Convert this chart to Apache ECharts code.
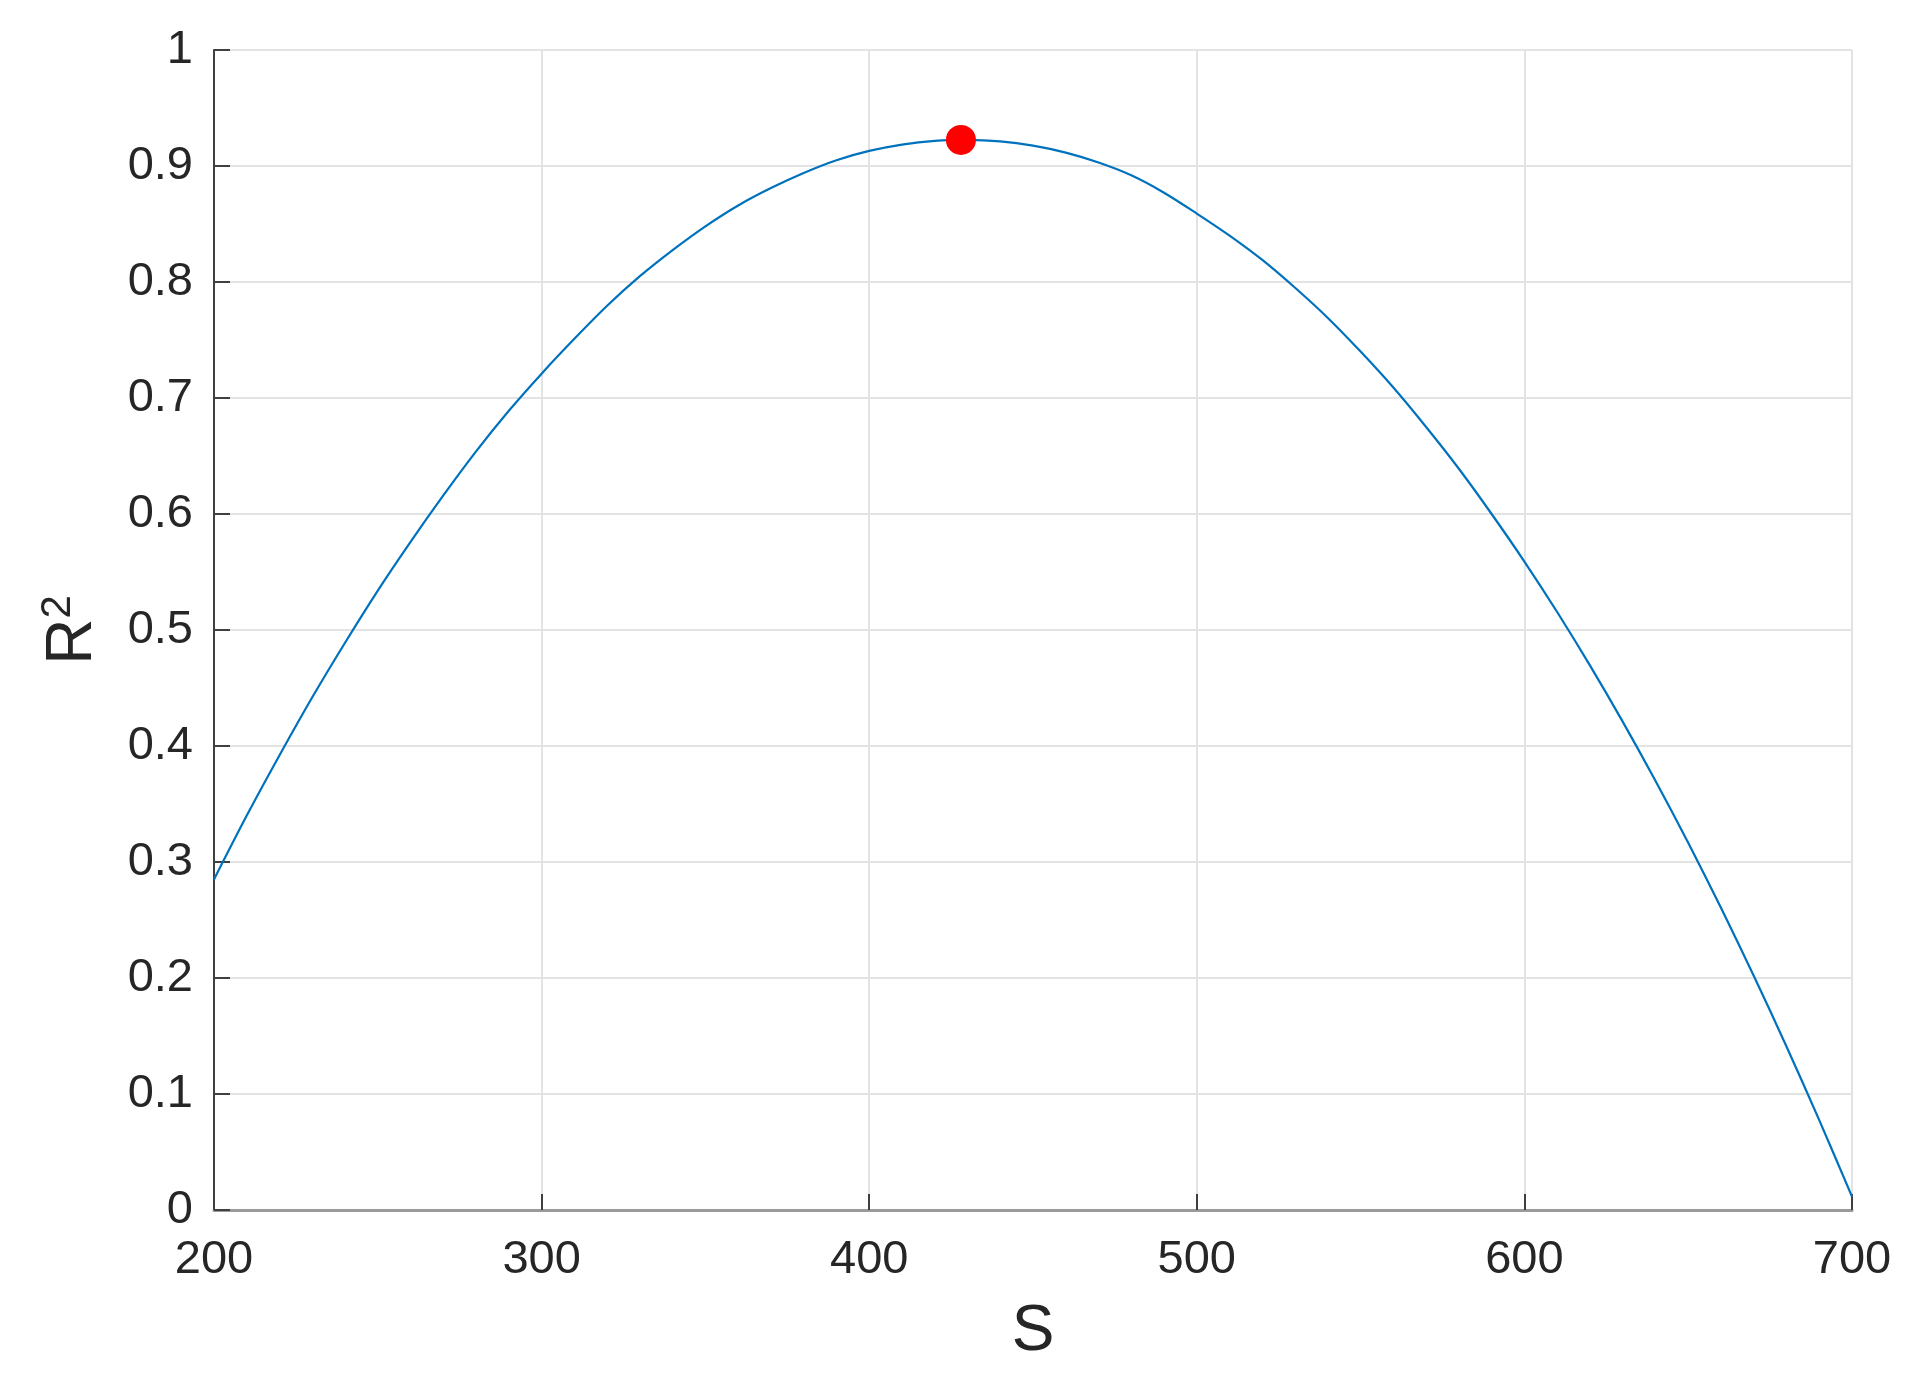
<!DOCTYPE html>
<html>
<head>
<meta charset="utf-8">
<script src="https://cdn.jsdelivr.net/npm/echarts@6/dist/echarts.min.js"></script>
<style>
html,body{margin:0;padding:0;background:#fff;}
#chart{width:1924px;height:1384px;}
</style>
</head>
<body>
<div id="chart"></div>
<script>
const sValues = [200,210,220,230,240,250,260,270,280,290,300,310,320,330,340,350,360,370,380,390,400,410,420,430,440,450,460,470,480,490,500,510,520,530,540,550,560,570,580,590,600,610,620,630,640,650,660,670,680,690,700];
const r2Values = [0.285,0.340,0.392,0.442,0.489,0.534,0.576,0.616,0.654,0.689,0.721,0.751,0.7795,0.805,0.8275,0.848,0.866,0.881,0.894,0.905,0.913,0.9185,0.9217,0.9225,0.9212,0.9175,0.9115,0.903,0.892,0.877,0.859,0.840,0.819,0.795,0.769,0.740,0.709,0.675,0.639,0.600,0.559,0.5155,0.4695,0.421,0.370,0.3165,0.2605,0.202,0.141,0.0775,0.0115];
const peakS = [428];
const peakR2 = [0.9225];
const xTickLabels = ['200','300','400','500','600','700'];
const yTickLabels = ['0','0.1','0.2','0.3','0.4','0.5','0.6','0.7','0.8','0.9','1'];

const chart = echarts.init(document.getElementById('chart'), null, {renderer:'canvas'});
const font = 'Liberation Sans, Arial, Helvetica, sans-serif';
const option = {
  backgroundColor: '#ffffff',
  animation: false,
  grid: {left: 214, right: 72, top: 50, bottom: 174, containLabel: false},
  xAxis: {
    type: 'value', min: 200, max: 700, interval: 100,
    name: 'S', nameLocation: 'middle', nameGap: 90,
    nameTextStyle: {fontFamily: font, fontSize: 64, color: '#262626'},
    axisLine: {show: true, lineStyle: {color: '#9a9a9a', width: 3}},
    axisTick: {show: true, inside: true, length: 16, lineStyle: {color: '#404040', width: 2}},
    axisLabel: {fontFamily: font, fontSize: 47, color: '#262626', margin: 27,
      formatter: function(v){ const i = Math.round((v-200)/100); return xTickLabels[i]; }},
    splitLine: {show: true, lineStyle: {color: '#e3e3e3', width: 2}}
  },
  yAxis: {
    type: 'value', min: 0, max: 1, interval: 0.1,
    name: '{r|R}{s|2}', nameLocation: 'middle', nameGap: 105, nameRotate: 90,
    nameTextStyle: {fontFamily: font, fontSize: 64, color: '#262626',
      rich: {
        r: {fontFamily: font, fontSize: 64, color: '#262626'},
        s: {fontFamily: font, fontSize: 42, color: '#262626', verticalAlign: 'top', padding: [0,0,30,0]}
      }},
    axisLine: {show: true, lineStyle: {color: '#404040', width: 2}},
    axisTick: {show: true, inside: true, length: 16, lineStyle: {color: '#404040', width: 2}},
    axisLabel: {fontFamily: font, fontSize: 47, color: '#262626', margin: 21,
      formatter: function(v){ const i = Math.round(v*10); return yTickLabels[i]; }},
    splitLine: {show: true, lineStyle: {color: '#e3e3e3', width: 2}}
  },
  series: [
    {
      type: 'line', data: sValues.map((s,i)=>[s, r2Values[i]]),
      showSymbol: false, smooth: 0.3, lineStyle: {color: '#0072BD', width: 2.2}, z: 3
    },
    {
      type: 'scatter', data: peakS.map((s,i)=>[s, peakR2[i]]),
      symbol: 'circle', symbolSize: 30, itemStyle: {color: '#ff0000', opacity: 1}, z: 4
    }
  ]
};
chart.setOption(option);
</script>
</body>
</html>
